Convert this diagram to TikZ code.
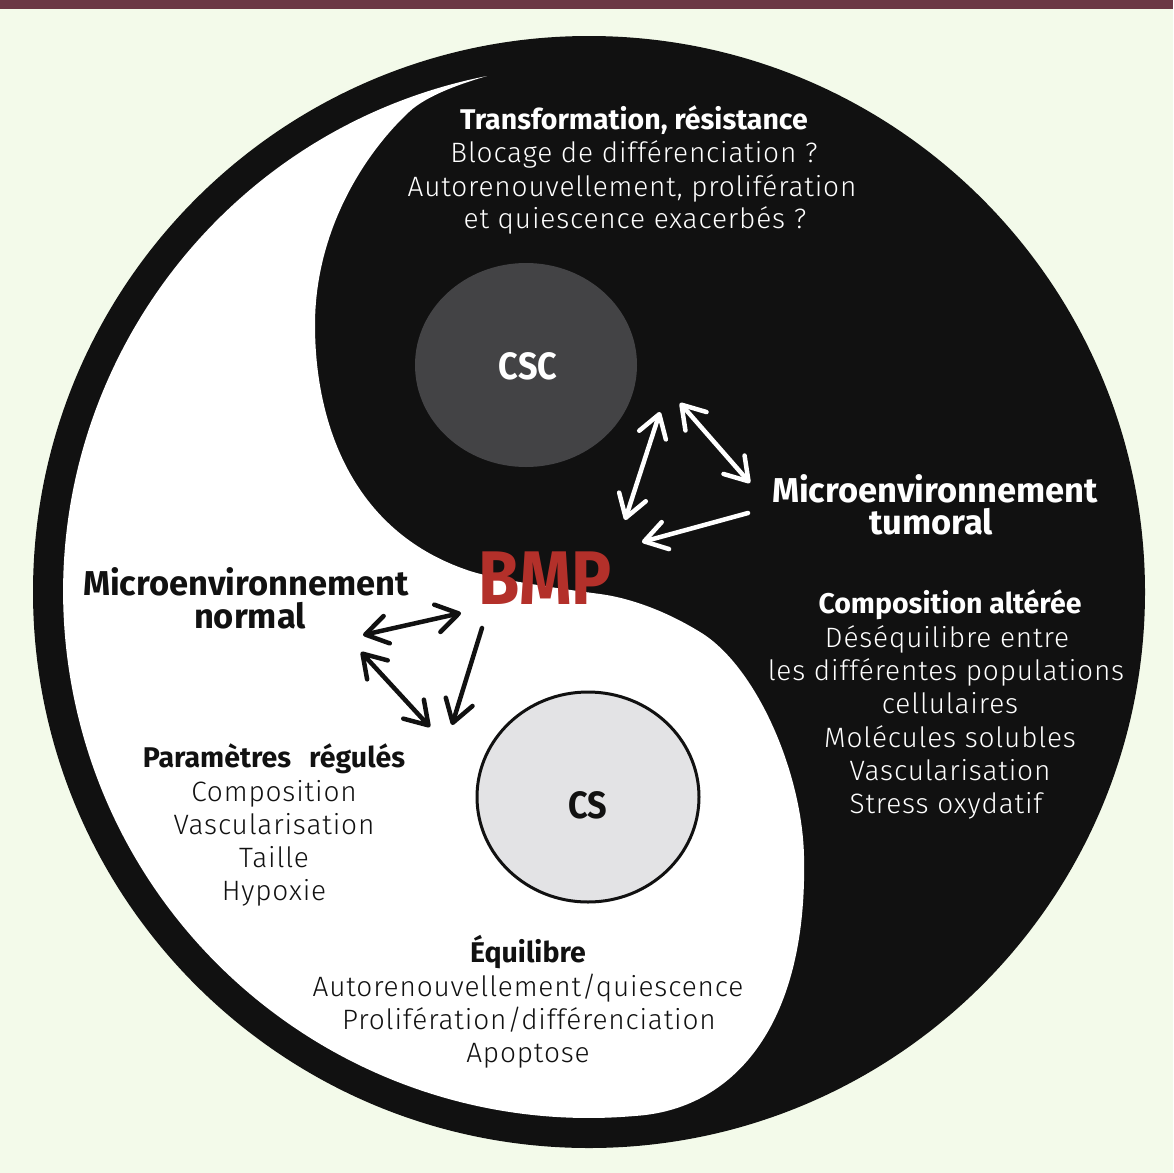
\documentclass[tikz,border=0pt]{standalone}
\usepackage{fontspec}
\setmainfont{Fira Sans}
\newfontfamily\lightfam{Fira Sans Light}[LetterSpace=3]
\usetikzlibrary{arrows.meta}
\definecolor{bg}{HTML}{F3FAEA}
\definecolor{bar}{HTML}{6B3845}
\definecolor{ink}{HTML}{111111}
\definecolor{csc}{HTML}{434345}
\definecolor{csfill}{HTML}{E3E3E5}
\definecolor{bmp}{HTML}{B3302A}
\begin{document}
\begin{tikzpicture}[x=1pt,y=-1pt,
  txtbase/.style={inner sep=0pt, anchor=base},
  lt/.style={txtbase, font=\fontsize{28}{33}\selectfont\lightfam},
  bd/.style={txtbase, font=\fontsize{28.5}{33}\selectfont\bfseries},
  big/.style={txtbase, font=\fontsize{34.5}{34}\selectfont\bfseries},
  onblack/.style={text=white},
  onwhite/.style={text=ink},
  warr/.style={draw=white, line width=4.5pt, line cap=round},
  barr/.style={draw=ink, line width=4.5pt, line cap=round},
  >={Straight Barb[length=22pt,width=28pt,round]}
]
\useasboundingbox (0,0) rectangle (1173,1173);
% background and top bar
\fill[bg] (0,0) rectangle (1173,1173);
\fill[bar] (0,0) rectangle (1173,9);
% yin-yang disc
\fill[ink] (589,592) circle[radius=556];
\fill[white] (487,76) arc[start angle=258.8, end angle=85, radius=526]
  .. controls (730,1110) and (808,1030) .. (804,856)
  .. controls (802,770) and (755,665) .. (700,632)
  .. controls (666,611) and (630,598) .. (600,594)
  .. controls (570,590) and (495,580) .. (467,570)
  .. controls (350,530) and (315,420) .. (315,325)
  .. controls (315,230) and (365,153) .. (409,112)
  .. controls (427,95) and (463,83) .. (487,76) -- cycle;
% cells
\fill[csc] (526,365) ellipse[x radius=111, y radius=102];
\filldraw[fill=csfill, draw=ink, line width=3pt] (588,797) ellipse[x radius=111, y radius=105];
\node[font=\fontsize{38}{38}\selectfont\bfseries, text=white, xscale=.9, inner sep=0pt] (cscl) at (528,366) {CSC};
\node[font=\fontsize{38}{38}\selectfont\bfseries, text=ink, xscale=.9, inner sep=0pt] (csl) at (588,805) {CS};
% top block
\node[bd,onblack] (t1) at (634,129) {Transformation, résistance};
\node[lt,onblack] (t2) at (634,162) {Blocage de différenciation ?};
\node[lt,onblack] (t3) at (632,196) {Autorenouvellement, prolifération};
\node[lt,onblack] (t4) at (635,228) {et quiescence exacerbés ?};
% tumoral
\node[big,onblack] (m1) at (935,502) {Microenvironnement};
\node[big,onblack] (m2) at (931,534) {tumoral};
% composition
\node[bd,onblack] (c1) at (950,613) {Composition altérée};
\node[lt,onblack] (c2) at (947,647) {Déséquilibre entre};
\node[lt,onblack] (c3) at (946,680) {les différentes populations};
\node[lt,onblack] (c4) at (950,713) {cellulaires};
\node[lt,onblack] (c5) at (950,747) {Molécules solubles};
\node[lt,onblack] (c6) at (950,780) {Vascularisation};
\node[lt,onblack] (c7) at (946,813) {Stress oxydatif};
% normal
\node[big,onwhite] (n1) at (246,595) {Microenvironnement};
\node[big,onwhite] (n2) at (250,628) {normal};
% parametres
\node[bd,onwhite] (p1) at (274,767) {Paramètres\hspace{0.4em} régulés};
\node[lt,onwhite] (p2) at (274,801) {Composition};
\node[lt,onwhite] (p3) at (274,834) {Vascularisation};
\node[lt,onwhite] (p4) at (274,867) {Taille};
\node[lt,onwhite] (p5) at (274,900) {Hypoxie};
% equilibre
\node[bd,onwhite] (e1) at (528,962) {Équilibre};
\node[lt,onwhite] (e2) at (528,996) {Autorenouvellement/quiescence};
\node[lt,onwhite] (e3) at (529,1029) {Prolifération/différenciation};
\node[lt,onwhite] (e4) at (528,1062) {Apoptose};
% BMP
\node[font=\fontsize{76}{76}\selectfont\bfseries, text=bmp, xscale=0.88, inner sep=0pt] (bmp) at (545,578) {BMP};
% white arrows
\coordinate (wa1) at (660,412);
\coordinate (wa2) at (625,520);
\coordinate (wb1) at (680,403);
\coordinate (wb2) at (750,483);
\coordinate (wc1) at (748,513);
\coordinate (wc2) at (642,542);
\draw[warr,<->] (wa1) -- (wa2);
\draw[warr,<->] (wb1) -- (wb2);
\draw[warr,->] (wc1) -- (wc2);
% black arrows
\coordinate (ba1) at (363,635);
\coordinate (ba2) at (461,613);
\coordinate (bb1) at (361,652);
\coordinate (bb2) at (430,727);
\coordinate (bc1) at (482,628);
\coordinate (bc2) at (452,725);
\draw[barr,<->] (ba1) -- (ba2);
\draw[barr,<->] (bb1) -- (bb2);
\draw[barr,->] (bc1) -- (bc2);
\end{tikzpicture}
\end{document}
